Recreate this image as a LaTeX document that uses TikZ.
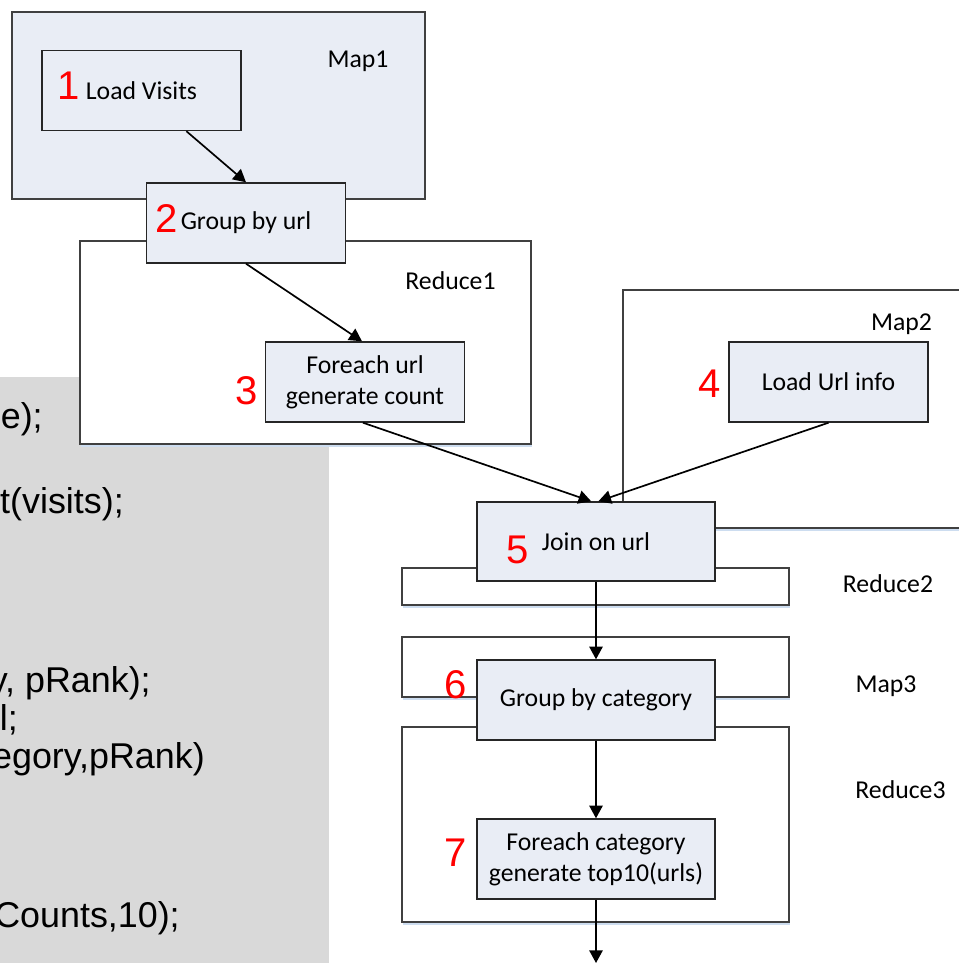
\documentclass[tikz,border=0pt]{standalone}
\usepackage{fontspec}
\setmainfont{Carlito}
\newfontfamily\arialfont{Liberation Sans}
\usepackage{xcolor}
\usepackage{tikz}
\usetikzlibrary{calc}
\usetikzlibrary{arrows.meta}
\usetikzlibrary{shadows}

\definecolor{boxfill}{RGB}{233,237,245}
\definecolor{codegray}{RGB}{217,217,217}
\definecolor{shadeblue}{RGB}{205,221,240}
\definecolor{edgegray}{RGB}{64,64,64}

\tikzset{
  stepbox/.style={draw=black!85, fill=boxfill, line width=1pt, inner sep=0pt,
    minimum width=4.975cm, minimum height=2cm, align=center,
    font=\fontsize{18.3}{22}\selectfont},
  widebox/.style={stepbox, minimum width=5.95cm},
  phase/.style={draw=edgegray, fill=white, line width=0.8pt, inner sep=0pt},
  shaded/.style={drop shadow={shadow xshift=1pt, shadow yshift=-2pt, fill=shadeblue, opacity=1}},
  phasename/.style={anchor=base, inner sep=0pt, font=\fontsize{18.3}{22}\selectfont},
  stepnum/.style={text=red, inner sep=0pt, font=\arialfont\fontsize{28.5}{30}\selectfont},
  codeline/.style={anchor=base east, inner sep=0pt, font=\arialfont\fontsize{25.5}{30}\selectfont},
  flow/.style={line width=1.2pt, -{Triangle[length=9pt,width=9.5pt]}}
}

\begin{document}
\begin{tikzpicture}[x=0.025cm,y=-0.025cm]
       \useasboundingbox (0,0) rectangle (959,963);
       \clip (0,0) rectangle (959,963);

       \begin{scope}
              \clip (0,377) rectangle (329,963);
              \fill[codegray] (0,377) rectangle (329,963);
              \node[codeline] (code1) at (43,428) {e);};
              \node[codeline] (code2) at (124,513) {t(visits);};
              \node[codeline] (code3) at (151,692) {y, pRank);};
              \node[codeline] (code4) at (18,730) {l;};
              \node[codeline] (code5) at (205,768) {egory,pRank)};
              \node[codeline] (code6) at (180,927) {Counts,10);};
       \end{scope}

       \node[phase, fill=boxfill, minimum width=10.325cm, minimum height=4.675cm] (map1) at (218.5,105.5) {};

       \node[stepbox] (loadvisits) at (141.5,90.5) {Load Visits};

       \node[phase, shaded, minimum width=11.275cm, minimum height=5.075cm] (reduce1) at (305.5,342.5) {};

       \node[phase, shaded, minimum width=8.675cm, minimum height=5.95cm] (map2) at (796.5,409) {};

       \node[phase, shaded, minimum width=9.675cm, minimum height=0.925cm] (reduce2) at (595.5,586.5) {};

       \node[phase, shaded, minimum width=9.675cm, minimum height=1.5cm] (map3) at (595.5,667) {};

       \node[phase, shaded, minimum width=9.675cm, minimum height=4.875cm] (reduce3) at (595.5,824.5) {};

       \node[stepbox] (groupurl) at (246,223) {Group by url};
       \node[stepbox] (foreachurl) at (365,382) {Foreach url\\generate count};
       \node[stepbox] (loadurl) at (828.5,382) {Load Url info};
       \node[widebox, minimum height=1.975cm] (joinurl) at (596,541.5) {Join on url};
       \node[widebox] (groupcat) at (596,700) {Group by category};
       \node[widebox] (foreachcat) at (596,859) {Foreach category\\generate top10(urls)};

       \node[stepnum] (n1) at (69,86) {1};
       \node[stepnum] (n2) at (166.5,218.5) {2};
       \node[stepnum] (n3) at (246.5,391) {3};
       \node[stepnum] (n4) at (710,383.5) {4};
       \node[stepnum] (n5) at (518,550) {5};
       \node[stepnum] (n6) at (456,685) {6};
       \node[stepnum] (n7) at (456,852.5) {7};

       \node[phasename] (lmap1) at (358,67) {Map1};
       \node[phasename] (lreduce1) at (450.5,289) {Reduce1};
       \node[phasename] (lmap2) at (901.5,330) {Map2};
       \node[phasename] (lreduce2) at (888,592) {Reduce2};
       \node[phasename] (lmap3) at (886,692) {Map3};
       \node[phasename] (lreduce3) at (900.5,798) {Reduce3};

       \coordinate (out) at (596,963);

       \draw[flow] ($(loadvisits.south west)!0.724!(loadvisits.south east)$) -- (groupurl.north);
       \draw[flow] (groupurl.south) -- ($(foreachurl.north west)!0.485!(foreachurl.north east)$);
       \draw[flow] ($(foreachurl.south west)!0.49!(foreachurl.south east)$) -- ($(joinurl.north west)!0.48!(joinurl.north east)$);
       \draw[flow] (loadurl.south) -- ($(joinurl.north west)!0.51!(joinurl.north east)$);
       \draw[flow] (joinurl) -- (groupcat);
       \draw[flow] (groupcat) -- (foreachcat);
       \draw[flow] (foreachcat) -- (out);
\end{tikzpicture}
\end{document}
